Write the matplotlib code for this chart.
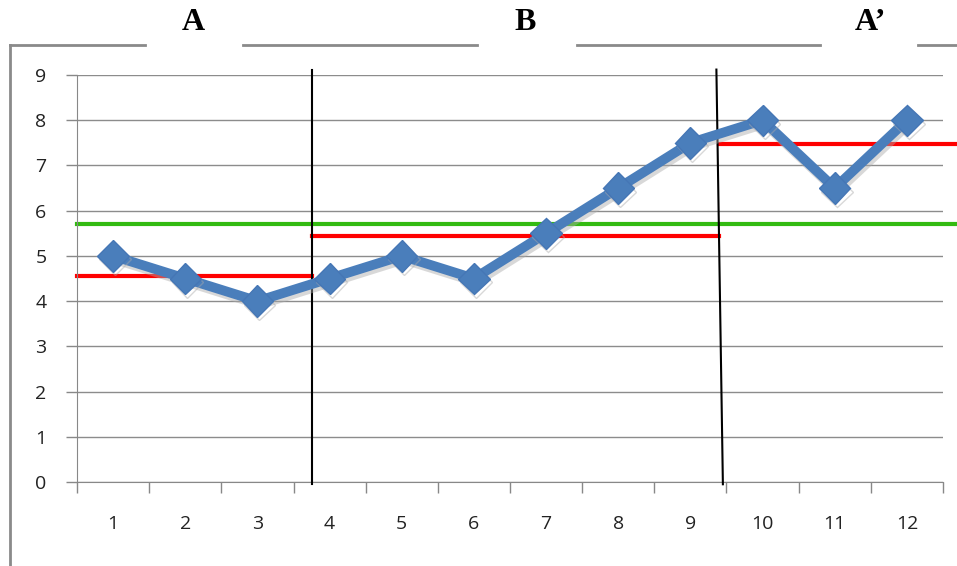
"""A-B-A' 区間の推移と区間平均の図を作る。"""

import matplotlib.pyplot as plt
import matplotlib.patheffects as pe
from matplotlib.lines import Line2D

# 観測値
sessions = list(range(1, 13))
values = [5, 4.5, 4, 4.5, 5, 4.5, 5.5, 6.5, 7.5, 8, 6.5, 8]

# 区間ラベルと区間平均 (赤線)
phase_labels = ["A", "B", "A\u2019"]
phase_starts = [0.5, 3.75, 9.4]
phase_ends = [3.75, 9.4, 12.7]
phase_means = [4.56, 5.45, 7.47]

# 全体平均 (緑線)
overall_mean = 5.7

# 区間の区切り線 (上端 x, 下端 x)
divider_top_x = [3.75, 9.36]
divider_bottom_x = [3.75, 9.45]

y_ticks = list(range(0, 10))

W, H = 957, 566
fig = plt.figure(figsize=(W / 100, H / 100), dpi=100)
ax = fig.add_axes([77 / W, (H - 482) / H, (943 - 77) / W, (482 - 75) / H])

tick_font = ["Open Sans", "DejaVu Sans"]

ax.set_xlim(0.5, 12.5)
ax.set_ylim(0, 9)
ax.set_yticks(y_ticks)
ax.set_xticks(sessions)
ax.set_xticks([x + 0.5 for x in range(0, 13)], minor=True)
ax.set_yticklabels([str(v) for v in y_ticks], fontsize=14, family=tick_font, color="#222222")
ax.set_xticklabels([str(v) for v in sessions], fontsize=14, family=tick_font, color="#222222")
ax.tick_params(axis="x", which="major", length=0, pad=24)
ax.tick_params(axis="x", which="minor", length=8, color="#888888", width=1)
ax.tick_params(axis="y", length=8, color="#888888", width=1, pad=14)

for side in ["top", "right"]:
    ax.spines[side].set_visible(False)
ax.spines["left"].set_color("#888888")
ax.spines["bottom"].set_color("#888888")
ax.yaxis.grid(True, color="#8c8c8c", linewidth=1)
ax.set_axisbelow(True)

# 全体平均
ax.plot([0.5, 12.7], [overall_mean, overall_mean], color="#33bb11", linewidth=3, clip_on=False, zorder=2)

# 区間平均
for start, end, mean in zip(phase_starts, phase_ends, phase_means):
    ax.plot([start, end], [mean, mean], color="#ff0000", linewidth=3, clip_on=False, zorder=2)

# 区切り線
for top_x, bottom_x in zip(divider_top_x, divider_bottom_x):
    ax.plot([top_x, bottom_x], [9.12, -0.05], color="black", linewidth=1.5, clip_on=False, zorder=3)

# 観測値の折れ線
ax.plot(
    sessions,
    values,
    color="#4a7ebb",
    linewidth=7,
    marker="D",
    markersize=16,
    markeredgecolor="#4576b5",
    zorder=4,
    path_effects=[
        pe.SimpleLineShadow(offset=(1.5, -2.5), shadow_color="#aaaaaa", alpha=0.45),
        pe.Normal(),
    ],
)

# 外枠 (ラベル部分で途切れる)
frame_color = "#8a8a8a"
frame_y = 1 - 45 / H
for x0, x1 in [(10, 145), (243, 477), (577, 820), (918, 957)]:
    fig.add_artist(Line2D([x0 / W, x1 / W], [frame_y, frame_y], color=frame_color, linewidth=2))
fig.add_artist(Line2D([10 / W, 10 / W], [frame_y, 0], color=frame_color, linewidth=2))

for label, x in zip(phase_labels, [193, 525, 870]):
    fig.text(x / W, 1 - 23 / H, label, ha="center", va="center", fontsize=23,
             fontweight="bold", family=["Liberation Serif", "DejaVu Serif"])

fig.savefig("out.png", dpi=100)
